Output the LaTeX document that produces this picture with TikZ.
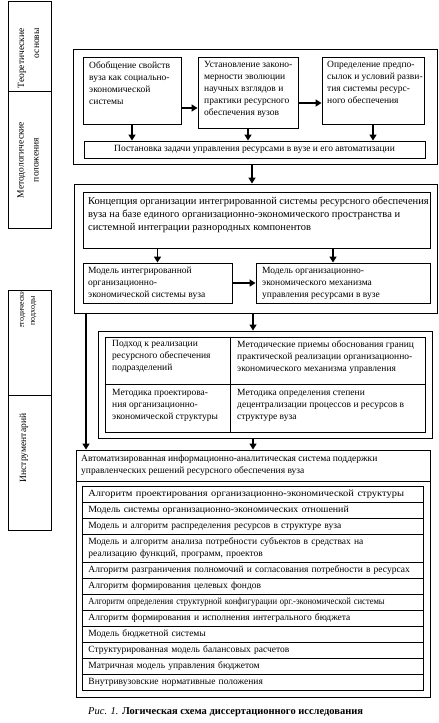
\documentclass[tikz,border=0pt]{standalone}
\usepackage{fontspec}
\setmainfont{Liberation Serif}
\usetikzlibrary{arrows.meta}
\newcommand\bx[5]{\node[boxst, minimum width={#4pt-#2pt}, minimum height={#5pt-#3pt}] (#1) at ({(#2+#4)/2},{(#3+#5)/2}) {};}
\newcommand\rw[4]{\node[rowst, minimum height=#3pt] (#1) at (82,#2) {#4};}
\begin{document}
\begin{tikzpicture}[x=1pt,y=-1pt,
  boxst/.style={draw, line width=0.9pt, inner sep=0pt},
  txt/.style={inner sep=0pt, anchor=north west, align=left, font=\fontsize{9.5}{12}\selectfont},
  vtxt/.style={inner sep=0pt, rotate=90, font=\fontsize{9.5}{15}\selectfont},
  rowst/.style={draw, line width=0.9pt, anchor=north west, inner xsep=6pt, inner ysep=0pt, text width=329pt, align=left, font=\fontsize{9.5}{12}\selectfont},
  arr/.style={line width=1.7pt, -{Triangle[width=7pt,length=6pt]}},
  ]
\useasboundingbox (0,0) rectangle (439,723);
\fill[white] (0,0) rectangle (439,723);

% left column
\bx{L1}{8}{1}{51}{91}
\bx{L2}{8}{91}{51}{228}
\bx{L3}{8}{290}{51}{395}
\bx{L4}{8}{395}{51}{530}
\node[vtxt, align=right, anchor=east] (L1t) at (28.5,28) {Теоретические\\основы};
\node[vtxt, align=center] (L2t) at (28,160) {Методологические\\положения};
\begin{scope}
\clip (8,290) rectangle (51,326);
\node[vtxt, align=center, font=\fontsize{8}{11}\selectfont] (L3t) at (27.5,311) {Методические\\подходы};
\end{scope}
\node[vtxt] (L4t) at (24,448) {Инструментарий};

% frame 1
\bx{F1}{73}{49}{437}{164}
\bx{A}{83}{57}{181}{124}
\bx{B}{198}{57}{298}{128}
\bx{C}{322}{57}{424}{124}
\bx{P}{84}{141}{425}{158}
\node[txt] (At) at (89,61) {Обобщение свойств\\вуза как социально-\\экономической\\системы};
\node[txt] (Bt) at (204,61) {Установление законо-\\мерности эволюции\\научных взглядов и\\практики ресурсного\\обеспечения вузов};
\node[txt] (Ct) at (327,61) {Определение предпо-\\сылок и условий разви-\\тия системы ресурс-\\ного обеспечения};
\node[txt, anchor=center] (Pt) at (P.center) {Постановка задачи управления ресурсами в вузе и его автоматизации};

% frame 2
\bx{F2}{74}{184}{437}{313}
\bx{K}{83}{192}{430}{248}
\bx{M1}{83}{263}{232}{303}
\bx{M2}{256}{263}{430}{303}
\node[txt, font=\fontsize{10.5}{13}\selectfont] (Kt) at (88,197) {Концепция организации интегрированной системы ресурсного обеспечения\\вуза на базе единого организационно-экономического пространства и\\системной интеграции разнородных компонентов};
\node[txt] (M1t) at (88,267) {Модель интегрированной\\организационно-\\экономической системы вуза};
\node[txt] (M2t) at (262,267) {Модель организационно-\\экономического механизма\\управления ресурсами в вузе};

% frame 3
\bx{F3}{98}{331}{432}{438}
\bx{T}{105}{337}{425}{432}
\coordinate (tdx) at (230,0);
\coordinate (tdy) at (0,384);
\draw[line width=0.9pt] (T.north -| tdx) -- (T.south -| tdx);
\draw[line width=0.9pt] (T.west |- tdy) -- (T.east |- tdy);
\node[txt] (T1) at (112,340) {Подход к реализации\\ресурсного обеспечения\\подразделений};
\node[txt] (T2) at (237,340) {Методические приемы обоснования границ\\практической реализации организационно-\\экономического механизма управления};
\node[txt] (T3) at (112,389) {Методика проектирова-\\ния организационно-\\экономической структуры};
\node[txt] (T4) at (237,389) {Методика определения степени\\децентрализации процессов и ресурсов в\\структуре вуза};

% frame 4
\bx{F4}{76}{450}{430}{697}
\coordinate (hdy) at (0,481);
\draw[line width=0.9pt] (F4.west |- hdy) -- (F4.east |- hdy);
\node[txt] (Ht) at (81,455) {Автоматизированная информационно-аналитическая система поддержки\\управленческих решений ресурсного обеспечения вуза};
\rw{R1}{486}{16}{\scalebox{1.1}[1]{Алгоритм проектирования организационно-экономической структуры}}
\rw{R2}{502}{16}{\scalebox{1.04}[1]{Модель системы организационно-экономических отношений}}
\rw{R3}{518}{16}{Модель и алгоритм распределения ресурсов в структуре вуза}
\rw{R4}{534}{28}{Модель и алгоритм анализа потребности субъектов в средствах на\\реализацию функций, программ, проектов}
\rw{R5}{562}{16}{Алгоритм разграничения полномочий и согласования потребности в ресурсах}
\rw{R6}{578}{16}{Алгоритм формирования целевых фондов}
\rw{R7}{594}{16}{\scalebox{0.9}[1]{Алгоритм определения структурной конфигурации орг.-экономической системы}}
\rw{R8}{610}{16}{Алгоритм формирования и исполнения интегрального бюджета}
\rw{R9}{626}{16}{Модель бюджетной системы}
\rw{R10}{642}{16}{Структурированная модель балансовых расчетов}
\rw{R11}{658}{16}{Матричная модель управления бюджетом}
\rw{R12}{674}{16}{Внутривузовские нормативные положения}

\node[inner sep=0pt, anchor=west, font=\fontsize{10.5}{12}\selectfont] (cap) at (88,712) {\itshape Рис. 1. \bfseries\upshape Логическая схема диссертационного исследования};

% arrows
\coordinate (yab) at (0,108);
\coordinate (ybc) at (0,103);
\coordinate (x252) at (252,0);
\coordinate (x333) at (333,0);
\coordinate (x253) at (253,0);
\coordinate (x86) at (86,0);
\draw[arr] (A.east |- yab) -- (B.west |- yab);
\draw[arr] (B.east |- ybc) -- (C.west |- ybc);
\draw[arr] (A.south) -- (A.south |- P.north);
\draw[arr] (B.south) -- (B.south |- P.north);
\draw[arr] (C.south) -- (C.south |- P.north);
\draw[arr] (F1.south -| x252) -- (F2.north -| x252);
\draw[arr] (K.south -| M1.north) -- (M1.north);
\draw[arr] (K.south -| x333) -- (M2.north -| x333);
\draw[arr] (M1.east) -- (M2.west);
\draw[arr] (F2.south -| x253) -- (F3.north -| x253);
\draw[arr] (F3.south -| x253) -- (F4.north -| x253);
\draw[arr] (F2.south -| x86) -- (F4.north -| x86);
\end{tikzpicture}
\end{document}
